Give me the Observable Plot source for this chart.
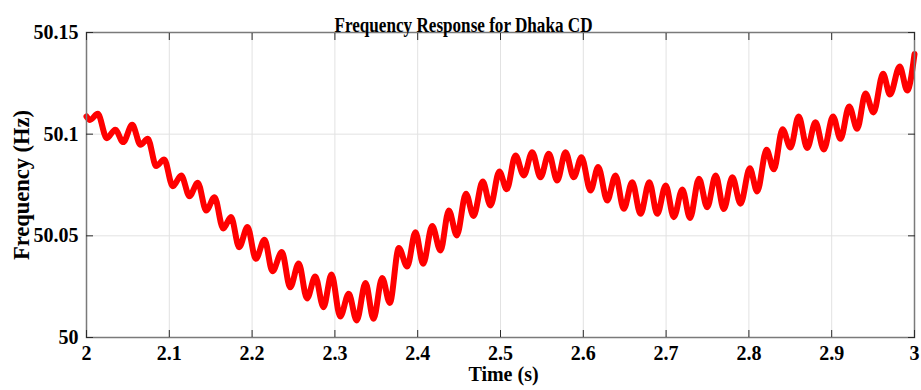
<!DOCTYPE html>
<html>
<head>
<meta charset="utf-8">
<script src="https://cdn.jsdelivr.net/npm/d3@7"></script>
<script src="https://cdn.jsdelivr.net/npm/@observablehq/plot@0.6"></script>
<style>
  html, body { margin: 0; padding: 0; background: #fff; }
  #chart svg { display: block; overflow: visible; }
</style>
</head>
<body>
<div id="chart"></div>
<script>
// Frequency at the Dhaka CD bus: local peaks and troughs of the 50 Hz ripple
const timeS = [
  2.0000, 2.0042, 2.0136, 2.0245, 2.0347, 2.0443, 2.0552, 2.0652, 2.0740, 2.0842,
  2.0938, 2.1042, 2.1144, 2.1244, 2.1344, 2.1446, 2.1546, 2.1651, 2.1745, 2.1844,
  2.1944, 2.2045, 2.2150, 2.2246, 2.2359, 2.2460, 2.2563, 2.2663, 2.2763, 2.2862,
  2.2959, 2.3064, 2.3167, 2.3263, 2.3370, 2.3466, 2.3571, 2.3663, 2.3772, 2.3873,
  2.3973, 2.4066, 2.4175, 2.4275, 2.4376, 2.4472, 2.4583, 2.4674, 2.4785, 2.4879,
  2.4986, 2.5075, 2.5181, 2.5281, 2.5383, 2.5483, 2.5583, 2.5685, 2.5785, 2.5885,
  2.5978, 2.6087, 2.6180, 2.6289, 2.6389, 2.6489, 2.6591, 2.6691, 2.6797, 2.6893,
  2.6995, 2.7093, 2.7196, 2.7289, 2.7397, 2.7496, 2.7599, 2.7697, 2.7800, 2.7899,
  2.8011, 2.8100, 2.8213, 2.8301, 2.8406, 2.8502, 2.8601, 2.8704, 2.8804, 2.8905,
  2.9016, 2.9106, 2.9211, 2.9308, 2.9408, 2.9505, 2.9620, 2.9704, 2.9821, 2.9912,
  3.0000
];
const freqHz = [
  50.1087, 50.1070, 50.1100, 50.0980, 50.1022, 50.0961, 50.1046, 50.0948, 50.0977, 50.0843,
  50.0876, 50.0744, 50.0797, 50.0695, 50.0761, 50.0625, 50.0690, 50.0536, 50.0593, 50.0444,
  50.0543, 50.0387, 50.0481, 50.0326, 50.0420, 50.0247, 50.0364, 50.0192, 50.0300, 50.0149,
  50.0310, 50.0103, 50.0215, 50.0084, 50.0268, 50.0092, 50.0293, 50.0170, 50.0440, 50.0349,
  50.0518, 50.0363, 50.0548, 50.0428, 50.0625, 50.0502, 50.0707, 50.0598, 50.0767, 50.0649,
  50.0817, 50.0729, 50.0895, 50.0797, 50.0911, 50.0788, 50.0904, 50.0772, 50.0911, 50.0788,
  50.0887, 50.0723, 50.0838, 50.0674, 50.0797, 50.0633, 50.0764, 50.0608, 50.0764, 50.0608,
  50.0748, 50.0592, 50.0728, 50.0588, 50.0781, 50.0641, 50.0797, 50.0632, 50.0788, 50.0658,
  50.0832, 50.0718, 50.0923, 50.0827, 50.1024, 50.0935, 50.1087, 50.0932, 50.1059, 50.0925,
  50.1087, 50.0977, 50.1136, 50.1027, 50.1200, 50.1107, 50.1297, 50.1195, 50.1333, 50.1215,
  50.1394
];

const xTickValues = [2, 2.1, 2.2, 2.3, 2.4, 2.5, 2.6, 2.7, 2.8, 2.9, 3];
const xTickLabels = ["2", "2.1", "2.2", "2.3", "2.4", "2.5", "2.6", "2.7", "2.8", "2.9", "3"];
const yTickValues = [50, 50.05, 50.1, 50.15];
const yTickLabels = ["50", "50.05", "50.1", "50.15"];

const titleText = "Frequency Response for Dhaka CD";
const xLabel = "Time (s)";
const yLabel = "Frequency (Hz)";

const series = timeS.map((t, i) => ({t, f: freqHz[i]}));
const xFmt = (d) => xTickLabels[xTickValues.indexOf(d)];
const yFmt = (d) => yTickLabels[yTickValues.indexOf(d)];

const axisColor = "#7a7a7a";
const tickColor = "#2b2b2b";

const chart = Plot.plot({
  width: 921,
  height: 390,
  marginTop: 32,
  marginBottom: 53,
  marginLeft: 86,
  marginRight: 7,
  style: {
    fontFamily: "'Liberation Serif', 'Times New Roman', serif",
    fontWeight: "bold",
    fontSize: "20px",
    background: "#fff",
    color: "#000"
  },
  x: {domain: [2, 3]},
  y: {domain: [50, 50.15]},
  marks: [
    Plot.gridX(xTickValues, {stroke: "#e2e2e2", strokeOpacity: 1}),
    Plot.gridY(yTickValues, {stroke: "#e2e2e2", strokeOpacity: 1}),
    Plot.line(series, {x: "t", y: "f", stroke: "#ff0000", strokeWidth: 6, curve: "monotone-x"}),
    Plot.frame({stroke: axisColor, strokeWidth: 1.5}),
    // inward tick marks on all four sides
    Plot.axisX(xTickValues, {anchor: "bottom", tickSize: -7, fill: "none", stroke: tickColor, label: null}),
    Plot.axisX(xTickValues, {anchor: "top", tickSize: -7, fill: "none", stroke: tickColor, label: null}),
    Plot.axisY(yTickValues, {anchor: "left", tickSize: -7, fill: "none", stroke: tickColor, label: null}),
    Plot.axisY(yTickValues, {anchor: "right", tickSize: -7, fill: "none", stroke: tickColor, label: null}),
    // tick labels and axis titles
    Plot.axisX(xTickValues, {
      anchor: "bottom", tickSize: 0, tickPadding: 8, tickFormat: xFmt, fontSize: 20,
      label: null
    }),
    Plot.axisY(yTickValues, {
      anchor: "left", tickSize: 0, tickPadding: 8, tickFormat: yFmt, fontSize: 20,
      label: null
    }),
    Plot.text([xLabel], {
      text: (d) => d, frameAnchor: "bottom", dx: 3, dy: 43,
      fontSize: 20, fontWeight: "bold", fill: "#000"
    }),
    Plot.text([yLabel], {
      text: (d) => d, frameAnchor: "left", textAnchor: "middle", dx: -65, dy: 0, rotate: -90,
      fontSize: 22.5, fontWeight: "bold", fill: "#000"
    }),
    Plot.text([titleText], {
      text: (d) => d, frameAnchor: "top", dx: -37, dy: -15,
      fontSize: 20, fontWeight: "bold", fill: "#000"
    })
  ]
});

// the title is set slightly condensed
d3.select(chart).selectAll("text")
  .filter(function () { return this.textContent === titleText; })
  .attr("textLength", 258)
  .attr("lengthAdjust", "spacingAndGlyphs");

document.getElementById("chart").appendChild(chart);
</script>
</body>
</html>
